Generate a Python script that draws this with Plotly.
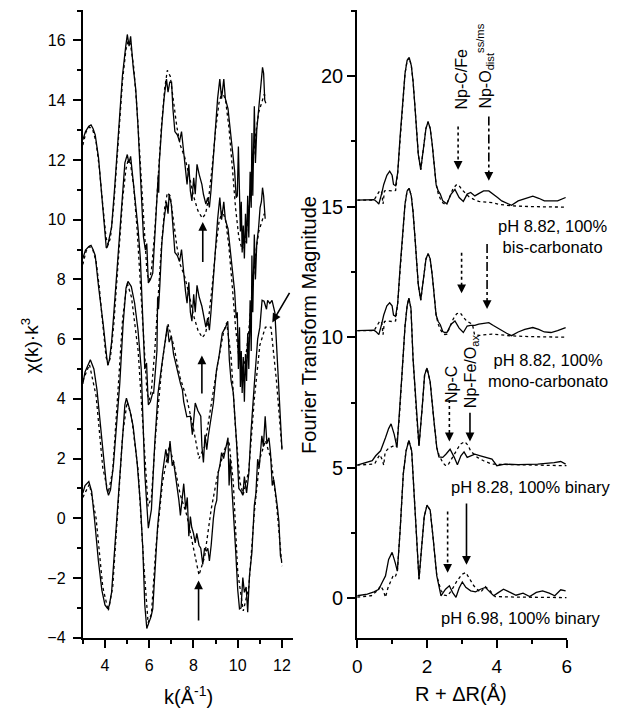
import plotly.graph_objects as go

# ---------------- Left panel: chi(k)*k^3 ----------------
kA = [3.0,3.12,3.27,3.37,3.46,3.56,3.71,3.86,4.0,4.06,4.11,4.2,4.3,4.45,4.6,4.79,4.94,5.01,5.09,5.16,5.27,5.39,5.49,5.64,5.74,5.83,5.89,5.96,6.05,6.16,6.23,6.3,6.38,6.41,6.43,6.45,6.57,6.67,6.78,6.85,6.93,7.01,7.07,7.16,7.27,7.37,7.46,7.53,7.64,7.71,7.79,7.86,7.93,8.01,8.08,8.16,8.26,8.38,8.45,8.56,8.64,8.72,8.79,8.9,8.97,9.09,9.19,9.27,9.37,9.44,9.56,9.67,9.76,9.86,9.93,9.98,10.03,10.08,10.12,10.16,10.2,10.25,10.3,10.35,10.4,10.45,10.5,10.56,10.61,10.64,10.68,10.75,10.8,10.86,10.94,11.01,11.07,11.12,11.17,11.22,11.27]
yA = [12.67,12.95,13.13,13.17,13.05,12.84,12.07,10.74,9.31,9.05,9.09,9.42,9.75,11.18,12.95,14.82,15.81,16.2,15.81,16.14,15.15,14.38,13.17,11.18,9.42,8.98,9.2,7.88,7.99,8.21,9.2,10.3,11.18,11.51,10.9,11.85,13.17,14.05,14.71,14.27,14.6,14.6,13.72,12.95,12.84,12.62,12.95,12.4,11.63,11.18,11.85,10.96,10.63,11.4,10.85,11.85,11.51,11.18,10.85,10.52,10.74,10.41,10.96,12.18,12.62,14.05,14.71,14.05,14.71,14.05,13.72,12.95,12.18,11.63,10.74,10.8,12.45,10.5,9.6,10.6,8.9,9.8,8.7,10.2,9.2,10.8,9.4,11.6,10.4,12.9,10.8,13.8,11.9,13.0,13.6,14.3,14.6,15.1,14.9,14.0,13.9]
kAfit = [3.0,3.15,3.3,3.45,3.6,3.75,3.9,4.05,4.15,4.25,4.4,4.6,4.8,4.95,5.05,5.15,5.3,5.45,5.6,5.75,5.9,6.0,6.1,6.25,6.4,6.55,6.7,6.82,6.95,7.1,7.25,7.4,7.6,7.8,8.0,8.2,8.4,8.55,8.7,8.85,9.0,9.15,9.3,9.45,9.6,9.75,9.9,10.05,10.2,10.35,10.5,10.65,10.8,10.95,11.1,11.2,11.27]
yAfit = [12.5,12.95,13.1,13.0,12.6,11.7,10.5,9.4,9.15,9.4,10.5,12.6,14.7,15.7,16.0,15.9,15.1,13.7,11.8,9.7,8.2,7.95,8.3,9.6,11.4,13.1,14.4,15.0,14.8,14.0,13.1,12.5,12.1,11.5,10.8,10.3,10.05,10.2,10.8,11.8,13.0,13.9,14.3,14.0,13.1,11.8,10.4,9.4,9.0,9.3,10.3,11.6,12.8,13.6,14.0,14.2,14.1]

kB = [3.0,3.12,3.27,3.37,3.46,3.56,3.71,3.86,3.93,4.08,4.13,4.2,4.3,4.38,4.6,4.79,4.9,5.01,5.08,5.16,5.27,5.41,5.49,5.6,5.7,5.8,5.88,5.96,6.05,6.16,6.2,6.27,6.35,6.38,6.42,6.48,6.57,6.67,6.78,6.85,6.9,7.0,7.07,7.16,7.27,7.37,7.46,7.53,7.64,7.71,7.79,7.86,7.93,8.01,8.08,8.16,8.26,8.38,8.45,8.56,8.64,8.72,8.79,8.9,8.97,9.09,9.19,9.27,9.37,9.44,9.56,9.67,9.76,9.86,9.93,9.98,10.03,10.08,10.12,10.16,10.2,10.25,10.3,10.35,10.4,10.45,10.5,10.56,10.61,10.64,10.68,10.75,10.8,10.86,10.94,11.01,11.07,11.12,11.17,11.22,11.24]
yB = [8.7,8.98,9.1,9.14,9.0,8.8,7.76,6.7,6.44,5.4,5.12,5.3,5.9,6.66,8.87,10.8,11.9,12.18,11.9,12.12,11.35,10.4,9.75,8.7,6.5,5.0,5.2,3.8,3.9,4.2,4.19,4.96,5.62,7.4,7.0,7.8,9.2,10.0,10.6,10.2,10.85,10.5,9.7,8.9,8.8,8.6,9.0,8.4,7.6,7.2,7.9,6.9,6.6,7.5,6.9,7.8,7.4,7.1,6.8,6.4,6.7,6.3,6.9,8.1,8.6,10.0,10.74,10.0,10.6,10.0,9.7,8.9,8.1,7.6,6.7,6.9,5.0,6.4,4.4,5.6,4.2,5.4,3.9,5.5,4.6,6.2,5.0,7.3,5.6,8.8,6.9,9.5,8.0,9.2,9.7,10.4,10.6,11.07,10.8,10.2,10.03]
kBfit = kAfit[:-1] + [11.24]
yBfit = [8.5,8.95,9.1,9.0,8.6,7.7,6.5,5.4,5.15,5.4,6.5,8.6,10.7,11.7,12.0,11.9,11.1,9.7,7.8,5.7,4.2,3.95,4.3,5.6,7.4,9.1,10.4,10.9,10.8,10.0,9.1,8.5,8.1,7.5,6.8,6.3,6.05,6.2,6.8,7.8,9.0,9.9,10.3,10.0,9.1,7.8,6.4,5.4,5.0,5.3,6.3,7.6,8.8,9.6,10.0,10.2,10.1]

kC = [3.0,3.1,3.34,3.5,3.64,3.79,3.93,4.08,4.16,4.25,4.38,4.53,4.67,4.82,4.95,5.04,5.12,5.19,5.34,5.49,5.64,5.8,5.96,6.1,6.25,6.4,6.6,6.75,6.82,6.9,7.0,7.1,7.25,7.41,7.5,7.56,7.7,7.86,7.95,8.08,8.2,8.33,8.38,8.45,8.52,8.6,8.67,8.8,8.9,9.04,9.15,9.3,9.45,9.55,9.62,9.7,9.8,9.95,10.05,10.15,10.23,10.3,10.4,10.5,10.6,10.75,10.9,11.0,11.1,11.19,11.3,11.35,11.45,11.55,11.68,11.71,11.8,11.9,12.0]
yC = [4.5,4.9,5.31,5.0,4.3,3.09,1.98,0.99,0.77,0.95,1.76,3.09,4.52,6.5,7.7,7.93,7.85,7.76,7.21,6.33,5.0,1.5,-0.33,0.3,2.5,4.2,5.3,6.2,6.45,5.9,6.1,5.5,5.0,4.52,4.3,3.9,3.4,3.42,2.8,3.86,3.6,3.42,2.42,1.87,2.8,2.3,2.76,3.4,3.86,4.96,5.4,6.2,6.4,6.6,5.3,4.6,4.2,2.5,1.0,0.9,0.77,1.4,0.85,1.5,2.9,4.5,6.0,6.4,7.3,7.27,7.0,7.3,7.2,7.3,6.88,6.44,5.0,3.5,2.3]
kCfit = [3.0,3.3,3.6,3.9,4.15,4.35,4.6,4.8,5.0,5.2,5.5,5.75,5.95,6.1,6.3,6.6,6.85,7.1,7.4,7.7,8.0,8.25,8.5,8.8,9.1,9.35,9.5,9.7,9.9,10.1,10.25,10.5,10.75,11.0,11.25,11.5,11.75,12.0]
yCfit = [4.6,5.15,4.1,1.7,0.85,1.6,4.4,6.7,7.9,7.4,5.6,2.5,0.4,0.7,2.9,5.3,6.5,5.8,4.7,4.0,3.0,2.0,2.4,3.8,5.2,6.2,6.55,5.4,3.0,1.2,0.8,1.6,4.0,5.8,6.4,6.4,4.6,2.3]

kD = [3.0,3.1,3.27,3.4,3.55,3.7,3.86,4.0,4.13,4.2,4.3,4.45,4.6,4.75,4.9,4.97,5.05,5.12,5.27,5.45,5.6,5.71,5.8,5.89,5.98,6.08,6.16,6.25,6.38,6.53,6.6,6.75,6.85,6.94,7.04,7.1,7.2,7.27,7.34,7.41,7.48,7.56,7.65,7.72,7.79,7.86,7.92,8.0,8.08,8.15,8.25,8.33,8.42,8.5,8.58,8.65,8.72,8.8,8.9,8.97,9.05,9.12,9.2,9.27,9.36,9.46,9.56,9.61,9.66,9.72,9.79,9.9,10.0,10.08,10.15,10.23,10.3,10.38,10.45,10.53,10.64,10.75,10.82,10.9,10.97,11.09,11.16,11.24,11.32,11.41,11.48,11.56,11.63,11.71,11.79,11.86,11.93,11.98]
yD = [0.85,1.1,1.23,0.9,-0.2,-1.4,-2.4,-2.9,-3.03,-2.9,-2.48,-0.9,0.83,2.5,3.8,4.02,3.8,3.64,3.1,1.9,0.5,-1.0,-2.9,-3.69,-3.5,-3.3,-3.03,-1.8,-0.27,0.9,1.5,2.31,1.85,2.59,1.76,1.9,1.4,1.1,0.61,0.1,0.6,1.16,0.3,0.7,-0.6,0.06,-0.3,-0.5,-0.82,-0.5,-0.9,-1.0,-1.54,-1.0,-1.1,-1.0,-1.43,-0.9,0.0,0.39,0.6,1.54,1.8,2.2,2.0,2.31,2.7,1.1,2.0,1.2,0.44,-1.0,-2.4,-3.03,-3.0,-1.98,-2.48,-2.3,-3.14,-1.92,-1.15,0.44,0.83,1.98,1.7,2.76,2.4,3.42,2.5,2.7,2.2,1.1,1.3,0.88,0.39,-0.11,-1.26,-1.4]
kDfit = [3.0,3.3,3.6,3.9,4.15,4.35,4.6,4.8,5.0,5.2,5.5,5.75,5.95,6.1,6.3,6.6,6.9,7.1,7.4,7.7,8.0,8.25,8.5,8.8,9.1,9.4,9.6,9.8,10.0,10.25,10.5,10.75,11.0,11.25,11.5,11.75,12.0]
yDfit = [0.7,1.15,0.0,-2.3,-3.1,-2.3,0.5,2.8,3.9,3.4,1.6,-1.5,-3.5,-3.2,-1.0,1.2,2.4,1.9,0.8,0.1,-1.0,-1.9,-1.3,0.3,1.5,2.3,2.6,1.2,-1.8,-3.1,-2.3,0.2,2.0,2.6,2.0,0.5,-1.6]

# arrows in left panel: (k_tail, y_tail, k_tip, y_tip)
left_arrows = [(8.42, 8.53, 8.42, 9.92), (8.38, 4.13, 8.38, 5.45),
               (8.23, -3.47, 8.23, -2.08), (12.38, 7.6, 11.56, 6.56)]

# ---------------- Right panel: Fourier transforms ----------------
R1 = [0,0.2,0.48,0.55,0.62,0.7,0.76,0.85,0.93,1.0,1.04,1.1,1.16,1.23,1.3,1.37,1.43,1.49,1.55,1.6,1.65,1.7,1.75,1.82,1.87,1.91,1.97,2.03,2.09,2.15,2.2,2.26,2.32,2.38,2.45,2.51,2.57,2.63,2.69,2.8,2.92,3.04,3.15,3.25,3.37,3.48,3.62,3.77,3.9,4.02,4.14,4.28,4.42,4.61,4.8,5.03,5.2,5.36,5.55,5.74,5.97]
F1 = [15.25,15.27,15.27,15.2,15.1,15.5,15.85,16.2,16.36,16.2,15.85,15.8,16.3,17.7,19.1,20.1,20.6,20.7,20.4,19.8,18.9,17.9,17.0,16.42,17.0,17.5,18.0,18.25,18.0,17.37,16.6,15.85,15.6,15.48,15.22,15.15,15.1,15.3,15.48,15.66,15.35,15.2,15.48,15.54,15.41,15.5,15.6,15.6,15.48,15.35,15.22,15.15,15.05,15.22,15.3,15.4,15.32,15.22,15.22,15.22,15.35]
R1f = [0,0.48,0.57,0.65,0.7,0.74,0.78,0.85,1.0,1.1,1.16,1.23,1.3,1.37,1.43,1.49,1.55,1.6,1.65,1.7,1.75,1.82,1.87,1.91,1.97,2.03,2.09,2.15,2.2,2.26,2.32,2.38,2.45,2.51,2.57,2.65,2.75,2.85,2.92,3.0,3.1,3.2,3.34,3.48,3.7,3.86,4.1,4.42,5.0,5.5,6.0]
F1f = [15.25,15.25,15.45,15.62,15.55,15.1,15.6,15.62,15.6,15.62,16.3,17.7,19.1,20.1,20.6,20.7,20.4,19.8,18.9,17.9,17.0,16.42,17.0,17.5,18.0,18.25,18.0,17.37,16.6,15.85,15.5,15.3,15.15,15.1,15.12,15.35,15.7,15.85,15.8,15.65,15.5,15.38,15.28,15.2,15.17,15.15,15.08,15.03,15.0,15.0,14.98]

R2 = R1
F2 = [10.25,10.27,10.27,10.2,10.1,10.5,10.85,11.2,11.32,11.2,10.85,10.8,11.3,12.7,14.1,15.1,15.6,15.7,15.4,14.8,13.9,12.9,12.0,11.42,12.0,12.5,13.0,13.2,13.0,12.37,11.6,10.85,10.6,10.48,10.22,10.18,10.18,10.35,10.5,10.62,10.35,10.18,10.43,10.45,10.45,10.5,10.53,10.56,10.45,10.35,10.25,10.15,10.06,10.2,10.3,10.37,10.3,10.2,10.18,10.25,10.37]
R2f = [0,0.48,0.57,0.65,0.7,0.74,0.78,0.85,1.0,1.1,1.16,1.23,1.3,1.37,1.43,1.49,1.55,1.6,1.65,1.7,1.75,1.82,1.87,1.91,1.97,2.03,2.09,2.15,2.2,2.26,2.32,2.38,2.45,2.51,2.57,2.65,2.75,2.85,2.95,3.05,3.15,3.3,3.36,3.5,3.86,4.42,5.0,6.0]
F2f = [10.25,10.25,10.45,10.62,10.55,10.1,10.6,10.62,10.6,10.62,11.3,12.7,14.1,15.1,15.6,15.7,15.4,14.8,13.9,12.9,12.0,11.42,12.0,12.5,13.0,13.2,13.0,12.37,11.6,10.85,10.5,10.3,10.15,10.1,10.12,10.35,10.7,10.9,10.94,10.75,10.6,10.5,10.1,10.07,10.12,10.05,10.02,10.0]

R3 = [0,0.29,0.43,0.53,0.67,0.81,0.9,0.97,1.06,1.14,1.2,1.28,1.37,1.43,1.48,1.54,1.6,1.7,1.77,1.86,1.93,2.0,2.09,2.19,2.28,2.34,2.45,2.54,2.66,2.78,2.87,2.97,3.06,3.15,3.25,3.37,3.53,3.67,3.86,4.0,4.23,4.61,5.17,5.64,5.83,5.97]
F3 = [5.1,5.2,5.27,5.46,5.65,6.15,6.5,6.68,6.28,5.77,6.8,8.54,10.43,11.2,11.5,11.1,9.17,7.03,5.84,7.28,8.55,8.82,8.29,6.9,5.77,5.42,5.4,5.52,5.71,5.4,5.12,5.46,5.61,5.4,5.45,5.52,5.46,5.4,5.33,5.08,5.14,5.12,5.14,5.2,5.24,5.14]
R3f = [0,0.5,0.6,0.65,0.72,0.76,0.8,0.9,1.02,1.12,1.2,1.28,1.37,1.43,1.48,1.54,1.6,1.7,1.77,1.86,1.93,2.0,2.09,2.19,2.28,2.34,2.45,2.52,2.59,2.73,2.85,2.95,3.08,3.18,3.25,3.44,3.62,3.86,4.5,5.0,6.0]
F3f = [5.1,5.15,5.4,5.5,5.3,5.1,5.6,5.75,5.83,5.8,6.8,8.54,10.43,11.2,11.5,11.1,9.17,7.03,5.84,7.28,8.55,8.82,8.29,6.9,5.77,5.5,5.2,5.1,5.08,5.4,5.7,5.9,6.0,5.85,5.64,5.4,5.27,5.14,5.12,5.1,5.08]

R4 = [0,0.29,0.48,0.62,0.71,0.81,0.9,1.0,1.09,1.15,1.23,1.32,1.4,1.48,1.56,1.65,1.73,1.77,1.84,1.92,2.0,2.09,2.17,2.28,2.4,2.53,2.64,2.73,2.83,2.92,3.01,3.11,3.25,3.39,3.53,3.67,3.81,3.91,4.02,4.19,4.38,4.55,4.75,4.94,5.13,5.31,5.5,5.66,5.83,5.97]
F4 = [0.1,0.16,0.25,0.35,0.6,0.86,1.49,1.76,1.36,1.04,2.62,4.76,5.65,6.05,5.65,3.5,1.36,0.73,1.87,3.13,3.57,3.38,2.37,0.86,0.1,0.35,0.48,0.23,0.04,0.4,0.63,0.42,0.29,0.25,0.35,0.42,0.23,0.1,0.2,0.35,0.23,0.12,0.2,0.07,0.23,0.29,0.2,0.1,0.33,0.29]
R4f = [0,0.4,0.57,0.67,0.75,0.81,0.88,0.95,1.04,1.1,1.15,1.23,1.32,1.4,1.48,1.56,1.65,1.73,1.77,1.84,1.92,2.0,2.09,2.17,2.28,2.4,2.5,2.59,2.7,2.85,3.0,3.11,3.2,3.34,3.53,3.67,3.8,3.95,4.5,5.0,6.0]
F4f = [0.05,0.1,0.29,0.48,0.3,0.04,0.4,0.6,0.9,0.86,1.04,2.62,4.76,5.65,6.05,5.65,3.5,1.36,0.73,1.87,3.13,3.57,3.38,2.37,0.86,0.3,0.12,0.1,0.3,0.65,0.92,0.99,0.8,0.48,0.23,0.45,0.3,0.07,0.05,0.05,0.03]

# right panel arrows: (R, y_tail, y_tip, style)
right_arrows = [(2.89, 18.07, 16.41, "dot"), (3.77, 18.45, 15.99, "dashdot"),
                (2.99, 13.23, 11.68, "dot"), (3.72, 13.57, 11.08, "dashdot"),
                (2.64, 7.60, 6.01, "dot"), (3.23, 7.11, 6.01, "solid"),
                (2.59, 3.33, 0.98, "dot"), (3.13, 3.63, 1.29, "solid")]

FONT = "Liberation Sans, Arial, Helvetica, sans-serif"
W, H, OFF = 604, 701, 8   # the page body adds an 8 px margin all round

def px(x):  # reference pixel x -> paper fraction
    return (x - OFF) / W

def py(y):  # reference pixel y -> paper fraction
    return (H - (y - OFF)) / H

fig = go.Figure()

def add(x, y, xa, ya, dash):
    fig.add_trace(go.Scatter(x=x, y=y, xaxis=xa, yaxis=ya, mode="lines",
                             line=dict(color="black", width=1.3, dash=dash),
                             showlegend=False, hoverinfo="skip"))

for kx, ky, kfx, kfy in [(kA, yA, kAfit, yAfit), (kB, yB, kBfit, yBfit),
                         (kC, yC, kCfit, yCfit), (kD, yD, kDfit, yDfit)]:
    add(kfx, kfy, "x", "y", "dot")
    add(kx, ky, "x", "y", "solid")

for rx, ry, rfx, rfy in [(R1, F1, R1f, F1f), (R2, F2, R2f, F2f),
                         (R3, F3, R3f, F3f), (R4, F4, R4f, F4f)]:
    add(rfx, rfy, "x2", "y2", "dot")
    add(rx, ry, "x2", "y2", "solid")

ann = []
for kt, yt, kh, yh in left_arrows:
    ann.append(dict(x=kh, y=yh, ax=kt, ay=yt, xref="x", yref="y", axref="x", ayref="y",
                    text="", showarrow=True, arrowhead=2, arrowsize=1.1, arrowwidth=1.6,
                    arrowcolor="black"))

shapes = []
for r, yt, yh, st in right_arrows:
    shapes.append(dict(type="line", xref="x2", yref="y2", x0=r, x1=r, y0=yt, y1=yh + 0.2,
                       line=dict(color="black", width=1.6, dash=st)))
    ann.append(dict(x=r, y=yh, xref="x2", yref="y2", ax=0, ay=-9, text="", showarrow=True,
                    arrowhead=2, arrowsize=1.1, arrowwidth=1.6, arrowcolor="black"))

def txt(x, y, t, xref="x2", yref="y2", size=17, angle=0, xanchor="left", yanchor="middle"):
    ann.append(dict(x=x, y=y, xref=xref, yref=yref, text=t, showarrow=False, textangle=angle,
                    xanchor=xanchor, yanchor=yanchor, font=dict(family=FONT, size=size, color="black")))

txt(2.99, 19.89, "Np-C/Fe", size=16, angle=-90, xanchor="center")
txt(3.66, 20.4, "Np-O<sub>dist</sub><sup>ss/ms</sup>", size=16, angle=-90, xanchor="center")
txt(2.68, 8.2, "Np-C", size=16, angle=-90, xanchor="center")
txt(3.26, 8.7, "Np-Fe/O<sub>ax</sub>", size=16, angle=-90, xanchor="center")
txt(3.98, 13.84, "pH 8.82, 100%<br>bis-carbonato", size=16.5)
txt(3.70, 8.73, "pH 8.82, 100%<br>mono-carbonato", size=16.5)
txt(2.62, 4.27, "pH 8.28, 100% binary", size=16.5)
txt(2.35, -0.76, "pH 6.98, 100% binary", size=16.5)

txt(px(25), py(350), "χ(k)·k<sup>3</sup>", xref="paper", yref="paper", size=19, angle=-90, xanchor="center")
txt(px(309), py(329), "Fourier Transform Magnitude", xref="paper", yref="paper", size=20, angle=-90, xanchor="center")
txt(px(186), py(704), "k(Å<sup>-1</sup>)", xref="paper", yref="paper", size=20, xanchor="center")
txt(px(464), py(703), "R + ΔR(Å)", xref="paper", yref="paper", size=20, xanchor="center")

axis_common = dict(showgrid=False, zeroline=False, showline=True, linecolor="black", linewidth=2,
                   ticks="outside", ticklen=8, tickwidth=2, tickcolor="black")

fig.update_layout(
    width=W, height=H, autosize=False,
    margin=dict(l=0, r=0, t=0, b=0),
    paper_bgcolor="white", plot_bgcolor="white",
    font=dict(family=FONT, color="black"),
    xaxis=dict(domain=[px(79), px(293)], range=[3, 12.51], tick0=4, dtick=2,
               tickfont=dict(size=16, family=FONT), anchor="y", ticklabelstandoff=4,
               minor=dict(ticks="outside", ticklen=4, tickwidth=2, tickcolor="black", dtick=1, tick0=3),
               **axis_common),
    yaxis=dict(domain=[py(646), py(10)], range=[-4, 17.02], tick0=0, dtick=2,
               tickfont=dict(size=16, family=FONT), anchor="x", ticklabelstandoff=4,
               minor=dict(ticks="outside", ticklen=4, tickwidth=2, tickcolor="black", dtick=1),
               **axis_common),
    xaxis2=dict(domain=[px(358), px(571)], range=[0, 6], tick0=0, dtick=2,
                tickfont=dict(size=19, family=FONT), anchor="y2", ticklabelstandoff=2,
                minor=dict(ticks="outside", ticklen=4, tickwidth=2, tickcolor="black", dtick=1),
                **axis_common),
    yaxis2=dict(domain=[py(646), py(10)], range=[-1.51, 22.53], tick0=0, dtick=5,
                tickfont=dict(size=20, family=FONT), anchor="x2",
                minor=dict(ticks="outside", ticklen=4, tickwidth=2, tickcolor="black", dtick=2.5),
                **axis_common),
    annotations=ann, shapes=shapes,
)

fig.write_html("out.html")
